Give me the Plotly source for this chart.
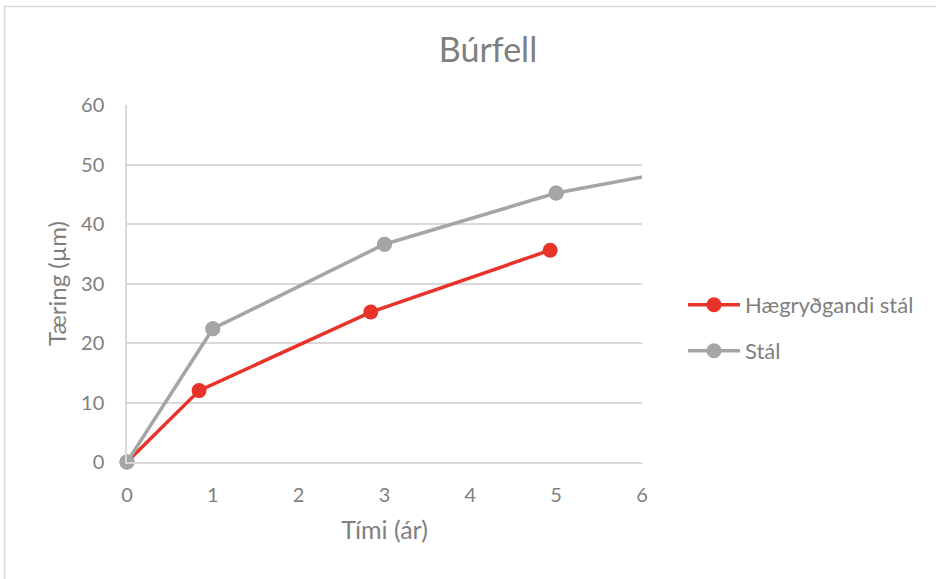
import plotly.graph_objects as go

title = "Búrfell"
series_names = ["Hægryðgandi stál", "Stál"]
red_x = [0, 0.84, 2.84, 4.93]
red_y = [0, 12.0, 25.2, 35.6]
gray_x = [0, 1, 3, 5, 7]
gray_y = [0, 22.4, 36.6, 45.2, 50.6]
x_ticks = [0, 1, 2, 3, 4, 5, 6]
y_ticks = [0, 10, 20, 30, 40, 50, 60]

W, H = 936, 579
L, R, T, B = 127, 642, 105, 462
FONT = "Lato"
TXT = "#7f7f80"
GRID = "#d9d9d9"
RED = "#e8332a"
GRAY = "#a5a5a5"
MS = 15
XMAX = 6

def px2x(px):
    return (px - L) / (R - L)

def py2y(py):
    return (B - py) / (B - T)

gray_in = [(x, y) for x, y in zip(gray_x, gray_y) if x <= XMAX]

fig = go.Figure()
fig.add_trace(go.Scatter(x=red_x, y=red_y, name=series_names[0], mode="lines+markers",
                         line=dict(color=RED, width=3.5), cliponaxis=False,
                         marker=dict(color=RED, size=MS), legend="legend"))
fig.add_trace(go.Scatter(x=gray_x, y=gray_y, name=series_names[1], mode="lines+markers",
                         line=dict(color=GRAY, width=3.5), cliponaxis=True,
                         marker=dict(color=GRAY, size=MS), legend="legend2"))
fig.add_trace(go.Scatter(x=[p[0] for p in gray_in], y=[p[1] for p in gray_in],
                         mode="markers", cliponaxis=False, showlegend=False, hoverinfo="skip",
                         marker=dict(color=GRAY, size=MS)))

frame = [
    dict(type="line", xref="paper", yref="paper", x0=px2x(4.5), x1=px2x(4.5), y0=py2y(6), y1=py2y(600),
         line=dict(color=GRID, width=1.5)),
    dict(type="line", xref="paper", yref="paper", x0=px2x(4), x1=px2x(960), y0=py2y(6.5), y1=py2y(6.5),
         line=dict(color=GRID, width=1.5)),
]

fig.update_layout(
    width=W, height=H,
    margin=dict(l=L, r=W - R, t=T, b=H - B),
    paper_bgcolor="white", plot_bgcolor="white",
    font=dict(family=FONT, color=TXT, size=20),
    title=dict(text=title, x=488 / W, xanchor="center", xref="container",
               y=1 - 50 / H, yanchor="middle", yref="container",
               font=dict(size=34, color=TXT, family=FONT)),
    xaxis=dict(range=[0, XMAX], tickvals=x_ticks, showgrid=False, zeroline=False,
               showline=True, linecolor=GRID, linewidth=1.5, ticks="",
               ticklabelstandoff=14, tickfont=dict(size=20),
               title=dict(text="Tími (ár)", standoff=17, font=dict(size=25, color=TXT))),
    yaxis=dict(range=[0, 60], tickvals=y_ticks, showgrid=True, gridcolor=GRID, gridwidth=1.5,
               zeroline=False, showline=True, linecolor=GRID, linewidth=1.5, ticks="",
               ticklabelstandoff=17, tickfont=dict(size=20),
               title=dict(text="Tæring (µm)", standoff=8, font=dict(size=24, color=TXT))),
    legend=dict(x=px2x(683), y=py2y(305), xanchor="left", yanchor="middle", itemwidth=52,
                bgcolor="rgba(0,0,0,0)", font=dict(size=22, color=TXT)),
    legend2=dict(x=px2x(683), y=py2y(351), xanchor="left", yanchor="middle", itemwidth=52,
                 bgcolor="rgba(0,0,0,0)", font=dict(size=22, color=TXT)),
    shapes=frame,
    showlegend=True,
)

fig.write_html("out.html", config={"displayModeBar": False},
               post_script="document.body.style.margin='0';document.body.style.overflow='hidden';")
